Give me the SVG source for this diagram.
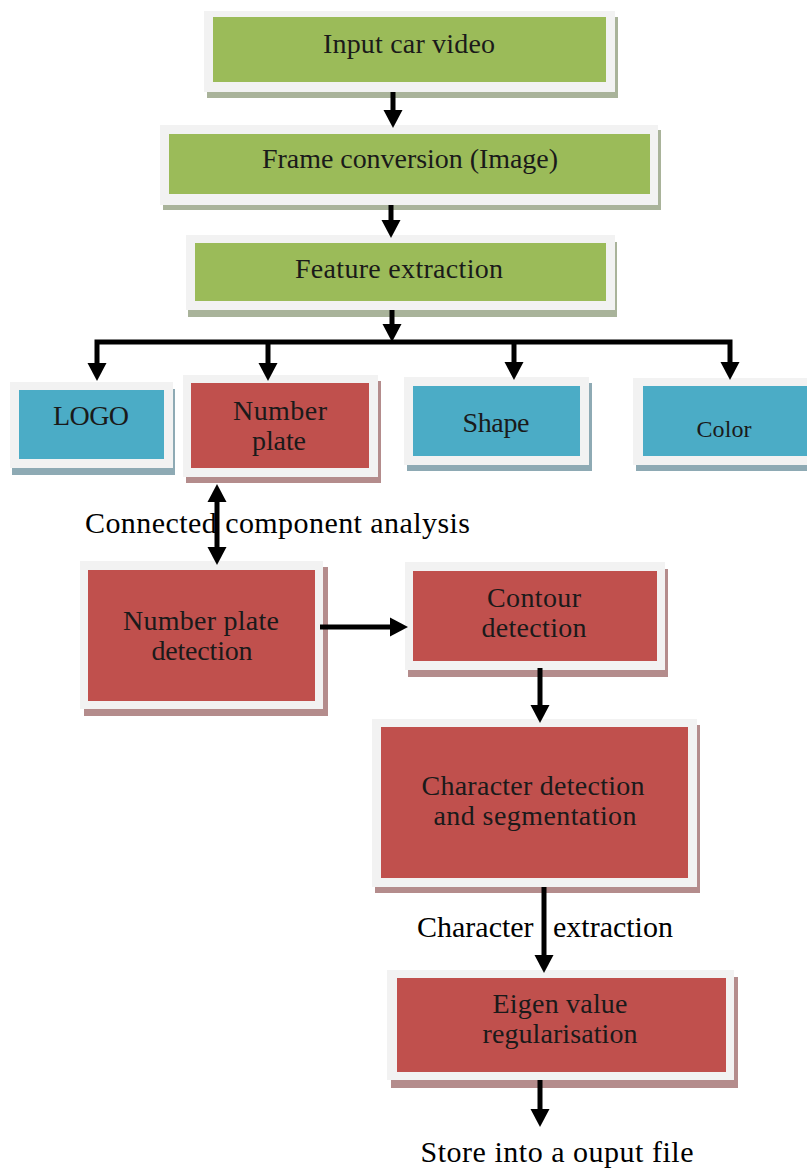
<svg xmlns="http://www.w3.org/2000/svg" width="807" height="1169" viewBox="0 0 807 1169">
<style>
.frame{fill:#f2f2f2}
.sg{fill:#a9b39a}
.sr{fill:#b48c8c}
.sb{fill:#8eaab4}
.g{fill:#9bbb59}
.r{fill:#c0504d}
.b{fill:#4bacc6}
text{font-family:'Liberation Serif','Times New Roman','DejaVu Serif',serif;fill:#1a1a1a;text-anchor:middle}
.bt{font-size:28px}
.ot{font-size:30px;fill:#000}
.conn{stroke:#000;stroke-width:5;fill:none;stroke-linejoin:miter}
</style>
<defs>
<marker id="ah" markerUnits="userSpaceOnUse" viewBox="0 0 18 20" markerWidth="18" markerHeight="20" refX="6" refY="10" orient="auto-start-reverse">
<path d="M0,0.5 L18,10 L0,19.5 z" fill="#000"/>
</marker>
</defs>

<g id="input-car-video">
<rect class="sg" x="207" y="17" width="411" height="81"/>
<rect class="frame" x="204" y="11" width="411" height="81"/>
<rect class="g" x="213" y="17" width="393" height="65"/>
<text class="bt" x="409" y="53" textLength="172" lengthAdjust="spacing">Input car video</text>
</g>

<g id="frame-conversion">
<rect class="sg" x="163" y="130" width="498" height="80"/>
<rect class="frame" x="160" y="125" width="498" height="80"/>
<rect class="g" x="169" y="134" width="481" height="60"/>
<text class="bt" x="410" y="168" textLength="296" lengthAdjust="spacing">Frame conversion (Image)</text>
</g>

<g id="feature-extraction">
<rect class="sg" x="188" y="242" width="429" height="75"/>
<rect class="frame" x="186" y="235" width="429" height="75"/>
<rect class="g" x="195" y="243" width="411" height="58"/>
<text class="bt" x="399" y="278" textLength="208" lengthAdjust="spacing">Feature extraction</text>
</g>

<g id="logo">
<rect class="sb" x="12" y="389" width="163" height="86"/>
<rect class="frame" x="10" y="382" width="163" height="86"/>
<rect class="b" x="19" y="390" width="145" height="69"/>
<text class="bt" x="91" y="425" textLength="76" lengthAdjust="spacing">LOGO</text>
</g>

<g id="number-plate">
<rect class="sr" x="186" y="381" width="195" height="102"/>
<rect class="frame" x="183" y="375" width="195" height="102"/>
<rect class="r" x="191" y="383" width="178" height="85"/>
<text class="bt" x="280" y="420" textLength="94" lengthAdjust="spacing">Number</text>
<text class="bt" x="279" y="450" textLength="54" lengthAdjust="spacing">plate</text>
</g>

<g id="shape">
<rect class="sb" x="407" y="383" width="185" height="88"/>
<rect class="frame" x="404" y="377" width="185" height="88"/>
<rect class="b" x="413" y="386" width="167" height="70"/>
<text class="bt" x="496" y="432" textLength="67" lengthAdjust="spacing">Shape</text>
</g>

<g id="color">
<rect class="sb" x="636" y="384" width="190" height="87"/>
<rect class="frame" x="633" y="378" width="190" height="87"/>
<rect class="b" x="643" y="386" width="175" height="70"/>
<text class="bt" x="724" y="437" style="font-size:24px" textLength="55" lengthAdjust="spacing">Color</text>
</g>

<g id="number-plate-detection">
<rect class="sr" x="84" y="567" width="244" height="149"/>
<rect class="frame" x="80" y="561" width="243" height="148"/>
<rect class="r" x="88" y="570" width="227" height="131"/>
<text class="bt" x="201" y="630" textLength="156" lengthAdjust="spacing">Number plate</text>
<text class="bt" x="202" y="660" textLength="101" lengthAdjust="spacing">detection</text>
</g>

<g id="contour-detection">
<rect class="sr" x="408" y="569" width="260" height="108"/>
<rect class="frame" x="405" y="562" width="260" height="108"/>
<rect class="r" x="413" y="571" width="244" height="90"/>
<text class="bt" x="534" y="607" textLength="94" lengthAdjust="spacing">Contour</text>
<text class="bt" x="534" y="637" textLength="105" lengthAdjust="spacing">detection</text>
</g>

<g id="character-detection">
<rect class="sr" x="375" y="725" width="325" height="168"/>
<rect class="frame" x="372" y="719" width="325" height="168"/>
<rect class="r" x="381" y="727" width="307" height="151"/>
<text class="bt" x="533" y="795" textLength="223" lengthAdjust="spacing">Character detection</text>
<text class="bt" x="535" y="825" textLength="203" lengthAdjust="spacing">and segmentation</text>
</g>

<g id="eigen-value">
<rect class="sr" x="391" y="977" width="347" height="111"/>
<rect class="frame" x="387" y="970" width="347" height="110"/>
<rect class="r" x="397" y="978" width="329" height="94"/>
<text class="bt" x="560" y="1013" textLength="135" lengthAdjust="spacing">Eigen value</text>
<text class="bt" x="560" y="1043" textLength="155" lengthAdjust="spacing">regularisation</text>
</g>

<g id="labels">
<text class="ot" x="85" y="533" style="text-anchor:start" textLength="385" lengthAdjust="spacing">Connected component analysis</text>
<text class="ot" style="text-anchor:start"><tspan x="417" y="937">Character</tspan><tspan x="553" y="937">extraction</tspan></text>
<text class="ot" x="557" y="1162" textLength="273" lengthAdjust="spacing">Store into a ouput file</text>
</g>

<g id="connectors">
<line class="conn" x1="393" y1="92" x2="393" y2="116" marker-end="url(#ah)"/>
<line class="conn" x1="391" y1="205" x2="391" y2="226" marker-end="url(#ah)"/>
<line class="conn" x1="392" y1="310" x2="392" y2="330" marker-end="url(#ah)"/>
<path class="conn" d="M97,369 L97,342 L730,342 L730,368" marker-start="url(#ah)" marker-end="url(#ah)"/>
<line class="conn" x1="268" y1="342" x2="268" y2="369" marker-end="url(#ah)"/>
<line class="conn" x1="514" y1="342" x2="514" y2="368" marker-end="url(#ah)"/>
<line class="conn" x1="217" y1="496" x2="217" y2="553" marker-start="url(#ah)" marker-end="url(#ah)"/>
<line class="conn" x1="320" y1="627" x2="396" y2="627" marker-end="url(#ah)"/>
<line class="conn" x1="540" y1="668" x2="540" y2="711" marker-end="url(#ah)"/>
<line class="conn" x1="544" y1="887" x2="544" y2="961" marker-end="url(#ah)"/>
<line class="conn" x1="540" y1="1080" x2="540" y2="1115" marker-end="url(#ah)"/>
</g>
</svg>
